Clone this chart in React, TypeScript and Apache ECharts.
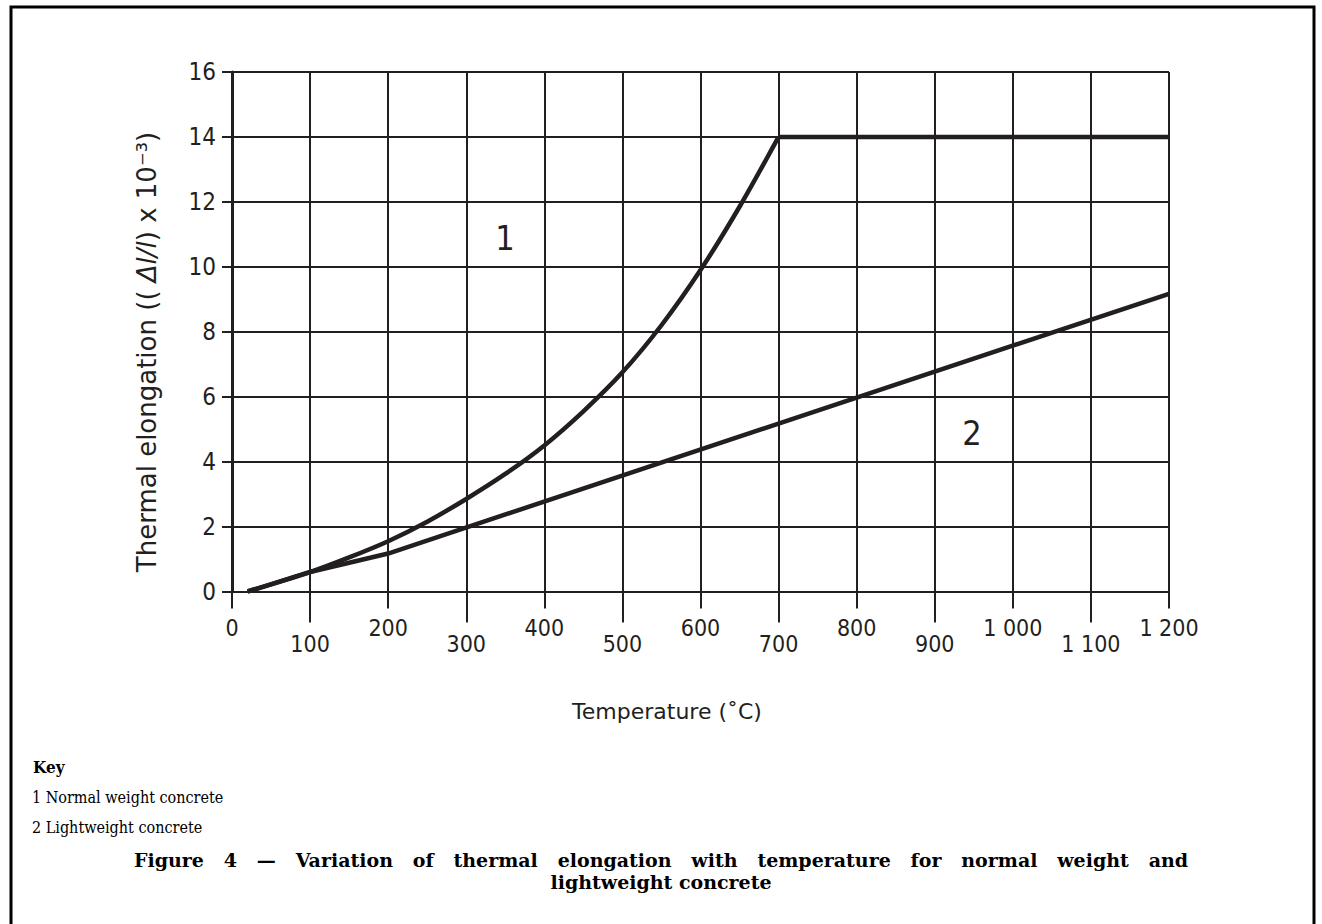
import React, { useEffect, useRef } from "react";
import * as echarts from "echarts";

// Normal weight concrete (curve 1): temperature (°C) vs elongation (x10^-3)
const normalTemps = [20, 100, 150, 200, 250, 300, 350, 400, 450, 500, 550, 600, 650, 700];
const normalElong = [0, 0.6, 1.05, 1.55, 2.15, 2.85, 3.62, 4.5, 5.55, 6.75, 8.2, 9.9, 11.85, 14];
const plateauTemps = [700, 1200];
const plateauElong = [14, 14];
// Lightweight concrete (curve 2)
const lightTemps = [20, 100, 200, 700, 1200];
const lightElong = [0, 0.6, 1.17, 5.17, 9.17];

const evenTicks = [0, 200, 400, 600, 800, 1000, 1200];
const oddTicks = [100, 300, 500, 700, 900, 1100];
const yTicks = [0, 2, 4, 6, 8, 10, 12, 14, 16];

const INK = "#231f20";
const AXIS_FONT = "'DejaVu Sans Condensed', sans-serif";
const NAME_FONT = "'DejaVu Sans', sans-serif";
const SERIF = "'DejaVu Serif', serif";
const SERIF_C = "'DejaVu Serif Condensed', 'DejaVu Serif', serif";

const fmt = (v: number) =>
  v >= 1000 ? `${Math.floor(v / 1000)} ${String(v % 1000).padStart(3, "0")}` : String(v);

export default function App() {
  const ref = useRef<HTMLDivElement>(null);
  useEffect(() => {
    if (!ref.current) return;
    const chart = echarts.init(ref.current, undefined, { renderer: "svg" });
    const pairs = (xs: number[], ys: number[]) => xs.map((x, i) => [x, ys[i]]);
    const lineSeries = (name: string, data: number[][], smooth: number | boolean) => ({
      name,
      type: "line",
      data,
      smooth,
      symbol: "none",
      xAxisIndex: 0,
      yAxisIndex: 0,
      lineStyle: { color: INK, width: 4.5, cap: "butt", join: "miter" },
      z: 5,
    });
    chart.setOption({
      animation: false,
      backgroundColor: "#ffffff",
      grid: { left: 232, right: 153, top: 72, bottom: 332.5, containLabel: false },
      xAxis: [
        {
          type: "value",
          min: 0,
          max: 1200,
          interval: 100,
          position: "bottom",
          axisLine: { show: true, onZero: false, lineStyle: { color: INK, width: 2 } },
          axisTick: { show: true, customValues: evenTicks, length: 17, lineStyle: { color: INK, width: 2 } },
          axisLabel: {
            show: true,
            customValues: evenTicks,
            formatter: fmt,
            margin: 25,
            color: INK,
            fontSize: 23,
            fontFamily: AXIS_FONT,
          },
          splitLine: { show: true, lineStyle: { color: INK, width: 2 } },
        },
        {
          type: "value",
          min: 0,
          max: 1200,
          interval: 100,
          position: "bottom",
          offset: 0,
          axisLine: { show: false },
          axisTick: { show: true, customValues: oddTicks, length: 31, lineStyle: { color: INK, width: 2 } },
          axisLabel: {
            show: true,
            customValues: oddTicks,
            formatter: fmt,
            margin: 41,
            color: INK,
            fontSize: 23,
            fontFamily: AXIS_FONT,
          },
          splitLine: { show: true, lineStyle: { color: INK, width: 2 } },
        },
      ],
      yAxis: [
        {
          type: "value",
          min: 0,
          max: 16,
          interval: 2,
          axisLine: { show: true, lineStyle: { color: INK, width: 2 } },
          axisTick: { show: true, length: 10, lineStyle: { color: INK, width: 2 } },
          axisLabel: {
            show: true,
            customValues: yTicks,
            margin: 16,
            color: INK,
            fontSize: 24,
            fontFamily: AXIS_FONT,
          },
          splitLine: { show: true, lineStyle: { color: INK, width: 2 } },
        },
        {
          type: "value",
          min: 0,
          max: 16,
          interval: 2,
          position: "right",
          axisLine: { show: true, lineStyle: { color: INK, width: 3 } },
          axisTick: { show: false },
          axisLabel: { show: false },
          splitLine: { show: false },
        },
      ],
      series: [
        lineSeries("Normal weight concrete", pairs(normalTemps, normalElong), 0.3),
        lineSeries("Normal weight concrete plateau", pairs(plateauTemps, plateauElong), false),
        lineSeries("Lightweight concrete", pairs(lightTemps, lightElong), false),
      ],
      graphic: [
        {
          type: "rect",
          shape: { x: 11, y: 7, width: 1303, height: 960 },
          style: { fill: "none", stroke: "#000", lineWidth: 3 },
          silent: true,
        },
        {
          type: "text",
          x: 505,
          y: 238,
          style: { text: "1", fill: INK, font: `34px ${AXIS_FONT}`, align: "center", verticalAlign: "middle" },
        },
        {
          type: "text",
          x: 972,
          y: 433,
          style: { text: "2", fill: INK, font: `34px ${AXIS_FONT}`, align: "center", verticalAlign: "middle" },
        },
        {
          type: "text",
          x: 147,
          y: 352,
          rotation: Math.PI / 2,
          style: {
            text: "Thermal elongation (( {i|Δl/l}) x 10⁻³)",
            fill: INK,
            font: `26px ${NAME_FONT}`,
            align: "center",
            verticalAlign: "middle",
            rich: {
              i: { fontStyle: "italic", fontSize: 26, fontFamily: NAME_FONT, fill: INK },
            },
          },
        },
        {
          type: "text",
          x: 667,
          y: 711,
          style: {
            text: "Temperature (˚C)",
            fill: INK,
            font: `22px ${NAME_FONT}`,
            align: "center",
            verticalAlign: "middle",
          },
        },
        {
          type: "text",
          x: 33,
          y: 767,
          style: { text: "Key", fill: "#000", font: `bold 17px ${SERIF_C}`, align: "left", verticalAlign: "middle" },
        },
        {
          type: "text",
          x: 32,
          y: 797,
          style: { text: "1 Normal weight concrete", fill: "#000", font: `16px ${SERIF_C}`, align: "left", verticalAlign: "middle" },
        },
        {
          type: "text",
          x: 32,
          y: 827,
          style: { text: "2 Lightweight concrete", fill: "#000", font: `16px ${SERIF_C}`, align: "left", verticalAlign: "middle" },
        },
        {
          type: "text",
          x: 661,
          y: 860,
          style: {
            text: "Figure   4   —   Variation   of   thermal   elongation   with   temperature   for   normal   weight   and",
            fill: "#000",
            font: `bold 19px ${SERIF}`,
            align: "center",
            verticalAlign: "middle",
          },
        },
        {
          type: "text",
          x: 661,
          y: 882,
          style: {
            text: "lightweight concrete",
            fill: "#000",
            font: `bold 19px ${SERIF}`,
            align: "center",
            verticalAlign: "middle",
          },
        },
      ],
    });
    return () => chart.dispose();
  }, []);
  return (
    <div
      ref={ref}
      style={{ position: "fixed", left: 0, top: 0, width: 1322, height: 924, background: "#fff" }}
    />
  );
}
